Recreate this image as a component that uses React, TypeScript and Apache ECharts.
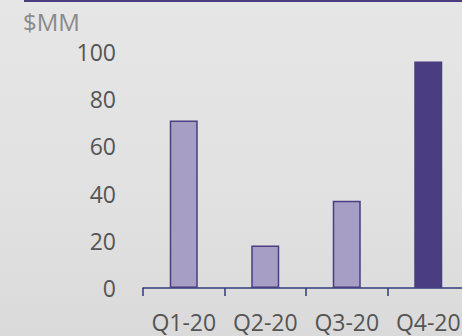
import React, { useEffect, useRef } from "react";
import * as echarts from "echarts";

const categories = ["Q1-20", "Q2-20", "Q3-20", "Q4-20"];
const values = [71, 18, 37, 96];
const highlighted = [false, false, false, true];
const yTicks = [0, 20, 40, 60, 80, 100];

const DARK = "#4a3d80";
const LIGHT = "#a69ec4";

export default function App() {
  const ref = useRef<HTMLDivElement>(null);

  useEffect(() => {
    if (!ref.current) return;
    const chart = echarts.init(ref.current, undefined, { renderer: "svg" });
    chart.setOption({
      animation: false,
      backgroundColor: {
        type: "linear",
        x: 0,
        y: 0,
        x2: 0,
        y2: 1,
        colorStops: [
          { offset: 0, color: "#e6e6e6" },
          { offset: 0.6, color: "#e1e1e1" },
          { offset: 1, color: "#dadada" },
        ],
      },
      textStyle: { fontFamily: "Open Sans" },
      grid: { left: 143, top: 52, height: 236, width: 326, containLabel: false },
      graphic: [
        {
          type: "rect",
          shape: { x: 24, y: 0, width: 460, height: 2 },
          style: { fill: DARK },
        },
        {
          type: "text",
          x: 23,
          y: 9,
          style: { text: "$MM", fill: "#8a8a8a", fontSize: 24, fontFamily: "Open Sans" },
        },
      ],
      xAxis: {
        type: "category",
        data: categories,
        axisLine: { lineStyle: { color: "#2f3b78", width: 1.5 } },
        axisTick: { show: true, length: 8, lineStyle: { color: "#2f3b78", width: 1.5 } },
        axisLabel: { color: "#555", fontSize: 23, margin: 22, interval: 0 },
      },
      yAxis: {
        type: "value",
        min: yTicks[0],
        max: yTicks[yTicks.length - 1],
        interval: 20,
        splitLine: { show: false },
        axisLine: { show: false },
        axisTick: { show: false },
        axisLabel: { color: "#555", fontSize: 23, margin: 27 },
      },
      series: [
        {
          type: "bar",
          barWidth: 28,
          data: values.map((v, i) => ({
            value: v,
            itemStyle: {
              color: highlighted[i] ? DARK : LIGHT,
              borderColor: DARK,
              borderWidth: 1.5,
            },
          })),
        },
      ],
    });
    return () => chart.dispose();
  }, []);

  // The plot runs a little past the right edge, so the chart is wider than its frame.
  return (
    <div style={{ width: 462, height: 336, position: "absolute", left: 0, top: 0, overflow: "hidden" }}>
      <div ref={ref} style={{ width: 476, height: 336 }} />
    </div>
  );
}
